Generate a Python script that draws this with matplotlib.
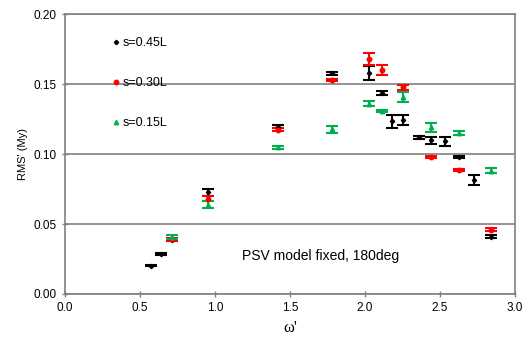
import matplotlib
matplotlib.use("Agg")
import matplotlib.pyplot as plt

plt.rcParams['font.family'] = ['Liberation Sans', 'DejaVu Sans']

# s = 0.45L
w_45 = [0.573, 0.638, 0.716, 0.951, 1.422, 1.778, 2.027, 2.116, 2.182, 2.253,
        2.360, 2.444, 2.533, 2.627, 2.727, 2.838]
rms_45 = [0.0202, 0.0286, 0.0386, 0.0726, 0.1195, 0.1576, 0.1580, 0.1436, 0.1233, 0.1243,
          0.1119, 0.1100, 0.1090, 0.0980, 0.0812, 0.0410]
err_45 = [0.0005, 0.0006, 0.0008, 0.0023, 0.0012, 0.0012, 0.0048, 0.0017, 0.0048, 0.0035,
          0.0012, 0.0025, 0.0035, 0.0008, 0.0035, 0.0008]

# s = 0.30L
w_30 = [0.716, 0.951, 1.422, 1.778, 2.027, 2.116, 2.253, 2.444, 2.627, 2.838]
rms_30 = [0.0390, 0.0680, 0.1174, 0.1529, 0.1679, 0.1598, 0.1476, 0.0979, 0.0888, 0.0459]
err_30 = [0.0010, 0.0018, 0.0012, 0.0010, 0.0046, 0.0036, 0.0018, 0.0006, 0.0008, 0.0010]

# s = 0.15L
w_15 = [0.716, 0.951, 1.422, 1.778, 2.027, 2.116, 2.253, 2.444, 2.627, 2.838]
rms_15 = [0.0407, 0.0638, 0.1048, 0.1176, 0.1359, 0.1307, 0.1405, 0.1190, 0.1152, 0.0880]
err_15 = [0.0012, 0.0026, 0.0012, 0.0024, 0.0019, 0.0009, 0.0036, 0.0030, 0.0015, 0.0018]

series = [
    (w_45, rms_45, err_45, 'black', 'D', 2.2, 's=0.45L'),
    (w_30, rms_30, err_30, '#ff0000', 'o', 3.2, 's=0.30L'),
    (w_15, rms_15, err_15, '#00b050', '^', 3.2, 's=0.15L'),
]

fig = plt.figure(figsize=(5.27, 3.61), dpi=100)
ax = fig.add_axes([0.1233, 0.1856, 0.8537, 0.7756])

handles = []
for w, r, e, col, mk, ms, lab in series:
    ax.errorbar(w, r, yerr=e, fmt='none', ecolor=col, elinewidth=1.5,
                capsize=4, capthick=1.5, zorder=3)
    h = ax.plot(w, r, linestyle='none', marker=mk, color=col, markersize=ms,
                label=lab, zorder=4)[0]
    handles.append(h)

ax.set_xlim(0, 3.0)
ax.set_ylim(0, 0.20)
ax.set_xticks([0.0, 0.5, 1.0, 1.5, 2.0, 2.5, 3.0])
ax.set_yticks([0.0, 0.05, 0.10, 0.15, 0.20])
ax.xaxis.set_major_formatter(matplotlib.ticker.FormatStrFormatter('%.1f'))
ax.yaxis.set_major_formatter(matplotlib.ticker.FormatStrFormatter('%.2f'))
ax.tick_params(direction='inout', length=5, width=1, color='#808080',
               labelsize=8.5, labelcolor='black')
ax.yaxis.grid(True, color='#808080', linewidth=1.2)
ax.set_axisbelow(True)
for sp in ax.spines.values():
    sp.set_color('#808080')
    sp.set_linewidth(1.2)

ax.set_ylabel("RMS' (My)", fontsize=8)
ax.set_xlabel("ω'", fontsize=12, family=['Liberation Serif', 'DejaVu Serif'], labelpad=4)

ax.text(1.18, 0.024, 'PSV model fixed, 180deg', fontsize=10)

leg = ax.legend(handles=handles, loc='upper left', bbox_to_anchor=(0.097, 0.935),
                frameon=False, fontsize=9, labelspacing=2.25, handlelength=0.4,
                handletextpad=0.3, borderaxespad=0)

fig.savefig('out.png', dpi=100)
